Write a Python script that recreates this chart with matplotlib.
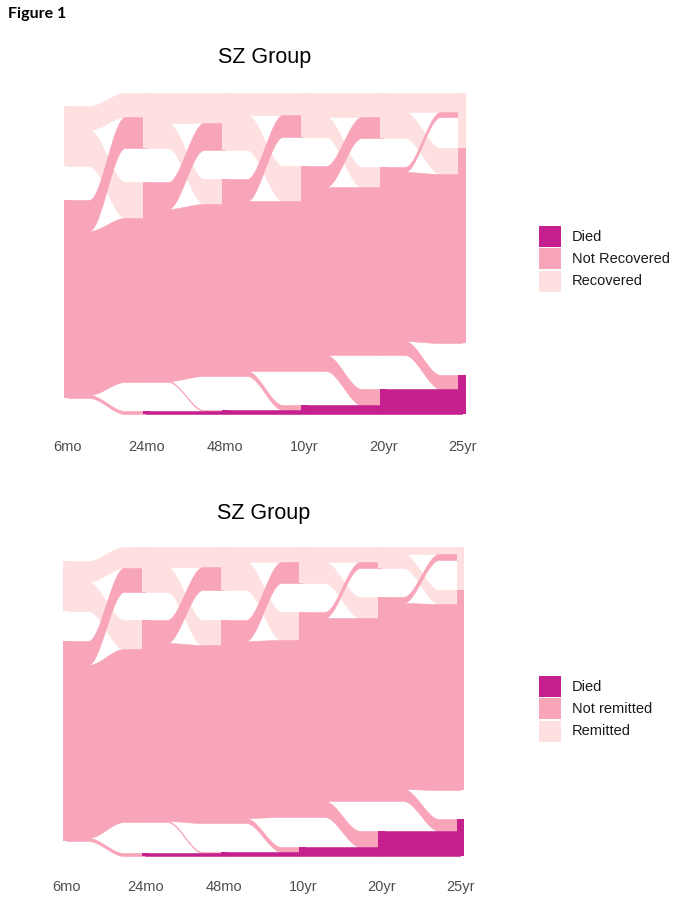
import numpy as np
import matplotlib
matplotlib.use("Agg")
import matplotlib.pyplot as plt
from matplotlib.patches import Rectangle

# assessment points and states (top to bottom of each stack)
# M0/M1/M2 = missing at that assessment, left blank like in the original
stages = ["6mo", "24mo", "48mo", "10yr", "20yr", "25yr"]
states = ["M0", "R", "M1", "N", "M2", "D"]

# top chart (recovery): patients moving between consecutive assessments
# one value per interval: 6mo->24mo, 24mo->48mo, 48mo->10yr, 10yr->20yr, 20yr->25yr
rec_R_R = [24, 30, 22, 24, 19]
rec_R_N = [36, 25, 35, 20, 26]
rec_N_R = [31, 27, 22, 21, 5]
rec_N_N = [164, 172, 170, 168, 169]
rec_N_D = [3, 1, 5, 16, 14]
rec_D_D = [0, 3, 4, 9, 25]
rec_M0_M1 = [13, 0, 0, 0, 0]
rec_M1_M1 = [21, 29, 29, 29, 0]
rec_M1_M2 = [13, 5, 0, 0, 29]
rec_M2_M2 = [16, 29, 34, 34, 3]
rec_M2_R = [0, 0, 0, 0, 31]

# bottom chart (remission)
rem_R_R = [21, 20, 15, 15, 7]
rem_R_N = [29, 25, 28, 21, 14]
rem_N_R = [24, 23, 21, 6, 6]
rem_N_N = [173, 178, 177, 183, 186]
rem_N_D = [3, 1, 5, 16, 12]
rem_D_D = [0, 3, 4, 9, 25]
rem_M0_M1 = [14, 0, 0, 0, 0]
rem_M1_M1 = [14, 28, 29, 29, 0]
rem_M1_M2 = [16, 0, 1, 0, 29]
rem_M2_M2 = [15, 29, 29, 30, 0]
rem_M2_M1 = [0, 2, 0, 0, 0]
rem_M2_R = [0, 0, 0, 0, 30]

colors = {"R": "#FDE0DF", "N": "#F8A4B9", "D": "#C5208D"}
rec_labels = ["Died", "Not Recovered", "Recovered"]
rem_labels = ["Died", "Not remitted", "Remitted"]

W, H = 675, 905
STRATUM_W = 0.09


def build_flows(pairs):
    mats = np.zeros((len(stages) - 1, len(states), len(states)))
    for (a, b), vals in pairs.items():
        mats[:, states.index(a), states.index(b)] = vals
    return mats


def ribbon(ax, xa, xb, top0, top1, h, color):
    # curve is shaped over the gap between strata; flat ends run to the axis centres
    x0, x1 = xa + STRATUM_W / 2, xb - STRATUM_W / 2
    t = np.linspace(0, 1, 160)
    u = np.clip((t - 0.25) / 0.5, 0, 1)
    s = u * u * (3 - 2 * u)
    xs = np.concatenate([[xa], x0 + (x1 - x0) * t, [xb]])
    upper = top0 + (top1 - top0) * s
    upper = np.concatenate([[top0], upper, [top1]])
    ax.fill_between(xs, upper, upper + h, facecolor=color, edgecolor=color, linewidth=0.4)


def draw_panel(ax, mats):
    sizes = [m.sum(axis=1) for m in mats] + [mats[-1].sum(axis=0)]
    tops = [np.concatenate([[0], np.cumsum(s)[:-1]]) for s in sizes]
    total = sizes[0].sum()

    for i, m in enumerate(mats):
        orig = tops[i][:, None] + np.cumsum(m, axis=1) - m
        dest = tops[i + 1][None, :] + np.cumsum(m, axis=0) - m
        for a, st in enumerate(states):
            if st not in colors:
                continue
            for b in range(len(states)):
                v = m[a, b]
                if v <= 0:
                    continue
                ribbon(ax, i + 1, i + 2, orig[a, b], dest[a, b], v, colors[st])

    for i, (s, t) in enumerate(zip(sizes, tops)):
        for k, st in enumerate(states):
            if st in colors and s[k] > 0:
                ax.add_patch(Rectangle((i + 1 - STRATUM_W / 2, t[k]), STRATUM_W, s[k],
                                       facecolor=colors[st], edgecolor="none"))

    ax.set_xlim(1 - STRATUM_W / 2, len(stages) + STRATUM_W / 2)
    ax.set_ylim(total, 0)
    ax.set_xticks(range(1, len(stages) + 1))
    ax.set_xticklabels(stages)
    ax.set_yticks([])
    ax.tick_params(axis="x", length=0, labelsize=10.5, labelcolor="#4D4D4D")
    for sp in ax.spines.values():
        sp.set_visible(False)


def legend(fig, labels, y_top):
    order = ["D", "N", "R"]
    for j, (st, lab) in enumerate(zip(order, labels)):
        y = y_top + j * 22.3
        fig.add_artist(Rectangle((539 / W, 1 - (y + 22) / H), 22 / W, 21 / H,
                                 transform=fig.transFigure, facecolor=colors[st], edgecolor="none"))
        fig.text(572 / W, 1 - (y + 11.5) / H, lab, fontsize=10.5, color="#1A1A1A",
                 va="center", ha="left", family="Liberation Sans")


rec = build_flows({("R", "R"): rec_R_R, ("R", "N"): rec_R_N, ("N", "R"): rec_N_R,
                   ("N", "N"): rec_N_N, ("N", "D"): rec_N_D, ("D", "D"): rec_D_D,
                   ("M0", "M1"): rec_M0_M1, ("M1", "M1"): rec_M1_M1, ("M1", "M2"): rec_M1_M2,
                   ("M2", "M2"): rec_M2_M2, ("M2", "R"): rec_M2_R})
rem = build_flows({("R", "R"): rem_R_R, ("R", "N"): rem_R_N, ("N", "R"): rem_N_R,
                   ("N", "N"): rem_N_N, ("N", "D"): rem_N_D, ("D", "D"): rem_D_D,
                   ("M0", "M1"): rem_M0_M1, ("M1", "M1"): rem_M1_M1, ("M1", "M2"): rem_M1_M2,
                   ("M2", "M2"): rem_M2_M2, ("M2", "M1"): rem_M2_M1, ("M2", "R"): rem_M2_R})

plt.rcParams["font.family"] = ["Liberation Sans", "DejaVu Sans"]
fig = plt.figure(figsize=(W / 100, H / 100), dpi=100)

ax1 = fig.add_axes([64 / W, 1 - 414 / H, 401.6 / W, 321 / H])
draw_panel(ax1, rec)
ax1.tick_params(axis="x", pad=19)

ax2 = fig.add_axes([63 / W, 1 - 856 / H, 401 / W, 309 / H])
draw_panel(ax2, rem)
ax2.tick_params(axis="x", pad=17.6)

fig.text(264.5 / W, 1 - 58 / H, "SZ Group", fontsize=15.5, ha="center", va="center")
fig.text(264 / W, 1 - 514 / H, "SZ Group", fontsize=15.5, ha="center", va="center")
fig.text(8 / W, 1 - 14 / H, "Figure 1", fontsize=11.5, fontweight="bold",
         family=["Lato", "DejaVu Sans"], ha="left", va="center")

legend(fig, rec_labels, 225)
legend(fig, rem_labels, 675)

fig.savefig("out.png", dpi=100, facecolor="white")
